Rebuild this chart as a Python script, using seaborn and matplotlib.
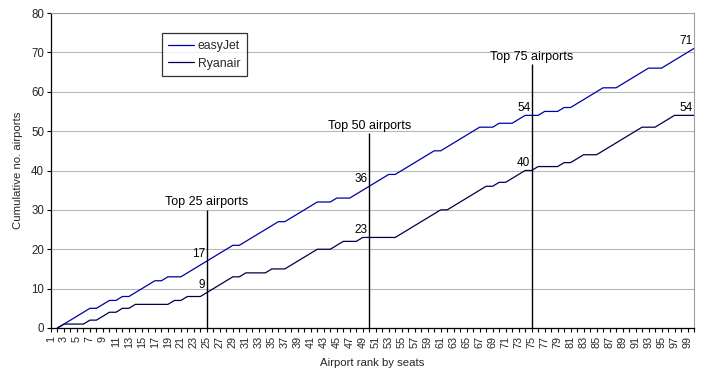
import matplotlib
matplotlib.use('Agg')
import matplotlib.pyplot as plt
import numpy as np
import pandas as pd
import seaborn as sns

# airport rank by seats (1..100); no value plotted for rank 1
ranks = list(range(1, 101))
easyjet = [None, 0, 1, 2, 3, 4, 5, 5, 6, 7, 7, 8, 8, 9, 10, 11, 12, 12, 13, 13,
           13, 14, 15, 16, 17, 18, 19, 20, 21, 21, 22, 23, 24, 25, 26, 27, 27, 28, 29, 30,
           31, 32, 32, 32, 33, 33, 33, 34, 35, 36, 37, 38, 39, 39, 40, 41, 42, 43, 44, 45,
           45, 46, 47, 48, 49, 50, 51, 51, 51, 52, 52, 52, 53, 54, 54, 54, 55, 55, 55, 56,
           56, 57, 58, 59, 60, 61, 61, 61, 62, 63, 64, 65, 66, 66, 66, 67, 68, 69, 70, 71]
ryanair = [None, 0, 1, 1, 1, 1, 2, 2, 3, 4, 4, 5, 5, 6, 6, 6, 6, 6, 6, 7,
           7, 8, 8, 8, 9, 10, 11, 12, 13, 13, 14, 14, 14, 14, 15, 15, 15, 16, 17, 18,
           19, 20, 20, 20, 21, 22, 22, 22, 23, 23, 23, 23, 23, 23, 24, 25, 26, 27, 28, 29,
           30, 30, 31, 32, 33, 34, 35, 36, 36, 37, 37, 38, 39, 40, 40, 41, 41, 41, 41, 42,
           42, 43, 44, 44, 44, 45, 46, 47, 48, 49, 50, 51, 51, 51, 52, 53, 54, 54, 54, 54]
airlines = ["easyJet", "Ryanair"]
colors = ["#0000A8", "#000048"]

# "Top N airports" markers and the height of each marker line
cutoffs = [25, 50, 75]
cutoff_tops = [30, 49.5, 67]
cutoff_labels = ["Top 25 airports", "Top 50 airports", "Top 75 airports"]
label_ranks = [25, 50, 75, 100]

df = pd.DataFrame({
    "rank": ranks * 2,
    "airports": [np.nan if v is None else v for v in easyjet + ryanair],
    "airline": ["easyJet"] * 100 + ["Ryanair"] * 100,
}).dropna()

sns.set_theme(style="white")
plt.rcParams['font.family'] = ['Liberation Sans', 'DejaVu Sans']

fig = plt.figure(figsize=(7.06, 3.75), dpi=100)
ax = fig.add_axes([51 / 706, 1 - 328 / 375, 643 / 706, 315 / 375])

sns.lineplot(data=df, x="rank", y="airports", hue="airline", hue_order=airlines,
             palette=colors, estimator=None, linewidth=0.9, ax=ax)

# marker lines and captions
for c, top, lab in zip(cutoffs, cutoff_tops, cutoff_labels):
    ax.vlines(c, 0, top, color="black", linewidth=1, zorder=3)
    ax.annotate(lab, (c, top), xytext=(0, 1), textcoords="offset points",
                ha="center", va="bottom", fontsize=9, color="black")

# value labels
for series in (easyjet, ryanair):
    for r in label_ranks:
        v = series[r - 1]
        ax.annotate(str(v), (r, v), xytext=(-1, 1), textcoords="offset points",
                    ha="right", va="bottom", fontsize=8.5, color="black")

ax.set_xlim(1, 100)
ax.set_ylim(0, 80)
ax.set_yticks(range(0, 81, 10))
ax.set_xticks(ranks)
ax.set_xticklabels([str(r) if r % 2 == 1 else "" for r in ranks], rotation=90)
ax.tick_params(axis="x", bottom=True, length=3, width=0.8, pad=2.5, labelsize=7.8, color="black")
ax.tick_params(axis="y", left=True, length=3, width=0.8, pad=2, labelsize=8.3, color="black")
ax.yaxis.grid(True, color="#B8B8B8", linewidth=0.8)
ax.set_axisbelow(True)

for side in ("left", "bottom"):
    ax.spines[side].set_color("black")
    ax.spines[side].set_linewidth(0.9)
for side in ("top", "right"):
    ax.spines[side].set_color("#A0A0A0")
    ax.spines[side].set_linewidth(0.8)

ax.set_xlabel("Airport rank by seats", fontsize=8.2, labelpad=7)
ax.set_ylabel("Cumulative no. airports", fontsize=8.2, labelpad=6)

leg = ax.legend(loc="upper left", bbox_to_anchor=(0.172, 0.935), borderaxespad=0,
                fontsize=8.8, frameon=True, fancybox=False, handlelength=2.1,
                handletextpad=0.3, borderpad=0.55, labelspacing=0.45)
leg.get_frame().set_edgecolor("black")
leg.get_frame().set_linewidth(0.9)

fig.savefig("out.png", dpi=100)
